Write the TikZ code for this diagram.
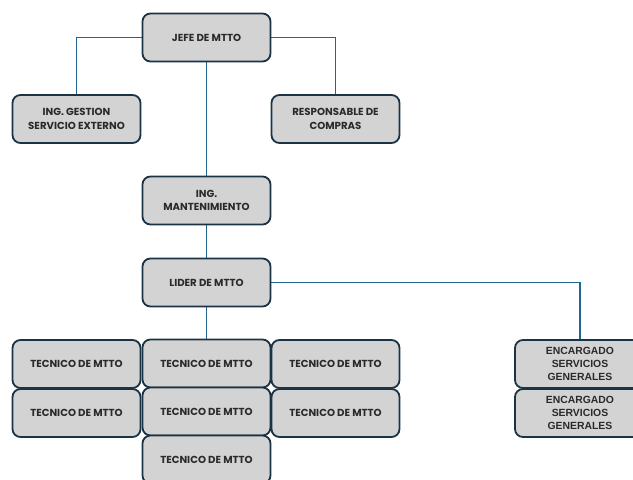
\documentclass[tikz,border=0pt]{standalone}
\usepackage{fontspec}
\newfontfamily\popfont{Poppins}
\newfontfamily\libfont{Liberation Sans}
\usetikzlibrary{backgrounds}
\definecolor{boxfill}{HTML}{D3D3D3}
\definecolor{boxline}{HTML}{1A3445}
\definecolor{conn}{HTML}{21668F}
\definecolor{txt}{HTML}{2A2A2A}
\tikzset{
  box/.style={draw=boxline, fill=boxfill, line width=1.8pt, rounded corners=8pt,
    minimum width=128pt, minimum height=48pt, align=center, text=txt,
    font=\popfont\bfseries\fontsize{10.2}{13.5}\selectfont, inner sep=2pt},
  encbox/.style={box, minimum width=130pt, font=\libfont\bfseries\fontsize{10.4}{13.2}\selectfont},
  link/.style={draw=conn, line width=1.8pt}
}
\begin{document}
\begin{tikzpicture}[x=1pt,y=-1pt]
\useasboundingbox (0,0) rectangle (633,480);
\clip (0,0) rectangle (633,480);
\node[box] (jefe) at (206.5,37.5) {JEFE DE MTTO};
\node[box] (ges) at (76.5,119) {ING. GESTION\\SERVICIO EXTERNO};
\node[box] (resp) at (335.5,119) {RESPONSABLE DE\\COMPRAS};
\node[box] (mant) at (206.5,200.5) {ING.\\MANTENIMIENTO};
\node[box] (lider) at (206.5,282.5) {LIDER DE MTTO};
\node[box] (t11) at (76.5,364) {TECNICO DE MTTO};
\node[box] (t12) at (206.5,363.5) {TECNICO DE MTTO};
\node[box] (t13) at (335.5,364) {TECNICO DE MTTO};
\node[box] (t21) at (76.5,413) {TECNICO DE MTTO};
\node[box] (t22) at (206.5,411.5) {TECNICO DE MTTO};
\node[box] (t23) at (335.5,413) {TECNICO DE MTTO};
\node[box] (t32) at (206.5,459.5) {TECNICO DE MTTO};
\node[encbox] (enc1) at (580,364) {ENCARGADO\\SERVICIOS\\GENERALES};
\node[encbox] (enc2) at (580,413) {ENCARGADO\\SERVICIOS\\GENERALES};
\begin{scope}[on background layer]
\draw[link] (jefe.west) -| (ges.north);
\draw[link] (jefe.east) -| (resp.north);
\draw[link] (jefe.south) -- (mant.north);
\draw[link] (mant.south) -- (lider.north);
\draw[link] (lider.south) -- (t12.north);
\draw[link] (lider.east) -| (enc1.north);
\end{scope}
\end{tikzpicture}
\end{document}
